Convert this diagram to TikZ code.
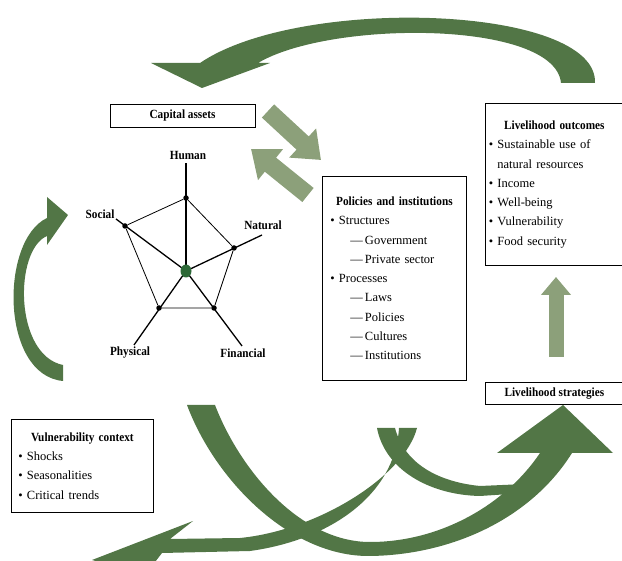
\documentclass[tikz,border=0pt]{standalone}
\usepackage{fontspec}
\setmainfont{Liberation Serif}[BoldFeatures={FakeStretch=0.9}]
\usetikzlibrary{arrows.meta,shapes.geometric}
\definecolor{leafgreen}{RGB}{82,118,70}
\definecolor{sagegreen}{RGB}{140,160,122}
\definecolor{hubgreen}{RGB}{45,105,55}
\begin{document}
\begin{tikzpicture}
   [
     x                 = 1pt,
     y                 = -1pt,
     every node/.style = {font=\fontsize{12.5}{19.3}\selectfont},
     infobox/.style    = {draw, line width=0.8pt, inner sep=0pt, align=left},
     headbox/.style    = {draw, line width=0.8pt, inner sep=0pt,
                          font=\fontsize{12.5}{15}\selectfont\bfseries},
     axislabel/.style  = {inner sep=1pt, font=\fontsize{12.5}{15}\selectfont\bfseries},
     vertex/.style     = {circle, fill=black, inner sep=0pt, minimum size=5.5pt},
     hub/.style        = {ellipse, fill=hubgreen, inner sep=0pt,
                          minimum width=11pt, minimum height=13pt},
     spoke/.style      = {line width=1.3pt},
     rim/.style        = {line width=0.8pt},
     bigarrow/.style   = {fill=leafgreen},
     blockarrow/.style = {draw=sagegreen, line width=18pt,
                          -{Triangle[length=25pt,width=38pt]}},
     uparrow/.style    = {draw=sagegreen, line width=15pt,
                          -{Triangle[length=18pt,width=29pt]}}
   ]
    \useasboundingbox (0,0) rectangle (622,561);
    \clip (0,0) rectangle (622,561);

    \fill[bigarrow] (595,83) .. controls (598,5) and (300,-5) .. (200,63)
      -- (151,63) -- (202,88) -- (270,63) -- (258,63)
      .. controls (330,20) and (555,20) .. (561,83) -- cycle;
    \fill[bigarrow] (63,381) .. controls (0,375) and (0,240) .. (47,218)
      -- (47,197) -- (68,215) -- (47,245) -- (47,236)
      .. controls (14,250) and (14,355) .. (63,365) -- cycle;
    \fill[bigarrow] (187,405) .. controls (215,480) and (290,557) .. (370,556)
      .. controls (450,555) and (530,520) .. (572,453)
      -- (613,453) -- (563,405) -- (497,453) -- (540,453)
      .. controls (505,505) and (440,542) .. (370,542)
      .. controls (300,542) and (240,470) .. (215,405) -- cycle;
    \fill[bigarrow] (377,428) -- (395,428) .. controls (405,465) and (440,482) .. (480,486)
      -- (525,484) -- (525,493) -- (480,496)
      .. controls (430,495) and (385,470) .. (377,428) -- cycle;
    \fill[bigarrow] (399,428) -- (417,428) .. controls (405,475) and (320,530) .. (240,538)
      -- (170,539) -- (193,521) -- (92,560) -- (145,575) -- (162,553) -- (250,551)
      .. controls (330,540) and (395,495) .. (399,428) -- cycle;

    \node[headbox, minimum width=145, minimum height=23] (capital) at (182.5,115.5) {Capital assets};

    \coordinate (centre)   at (186,271);
    \node[vertex] (human)     at (186,198) {};
    \node[vertex] (natural)   at (234,248) {};
    \node[vertex] (financial) at (214,308) {};
    \node[vertex] (physical)  at (159,308) {};
    \node[vertex] (social)    at (125,226) {};
    \coordinate (humanend)     at (186,163);
    \coordinate (naturalend)   at (262,235);
    \coordinate (financialend) at (242,346);
    \coordinate (physicalend)  at (134,345);
    \coordinate (socialend)    at (116,219);
    \draw[rim] (human) -- (natural) -- (financial) -- (physical) -- (social) -- (human);
    \draw[spoke] (centre) -- (humanend);
    \draw[spoke] (centre) -- (naturalend);
    \draw[spoke] (centre) -- (financialend);
    \draw[spoke] (centre) -- (physicalend);
    \draw[spoke] (centre) -- (socialend);
    \node[hub] (hubdot) at (centre) {};
    \node[axislabel] (humanlbl)     at (188,155) {Human};
    \node[axislabel] (naturallbl)   at (263,225) {Natural};
    \node[axislabel] (financiallbl) at (243,353) {Financial};
    \node[axislabel] (physicallbl)  at (130,353) {Physical};
    \node[axislabel] (sociallbl)    at (100,214) {Social};

    \coordinate (toout)  at (268,111);
    \coordinate (toin)   at (321,160);
    \coordinate (backin) at (308,195);
    \coordinate (backout) at (251,149);
    \draw[blockarrow] (toout) -- (toin);
    \draw[blockarrow] (backin) -- (backout);

    \node[infobox, text width=128, minimum width=144, minimum height=204, anchor=north west]
      (policies) at (322,176) {%
      \makebox[\hsize]{\bfseries Policies and institutions}\\
      \textbullet\ Structures\\
      \hspace*{20pt}—\,Government\\
      \hspace*{20pt}—\,Private sector\\
      \textbullet\ Processes\\
      \hspace*{20pt}—\,Laws\\
      \hspace*{20pt}—\,Policies\\
      \hspace*{20pt}—\,Cultures\\
      \hspace*{20pt}—\,Institutions};

    \node[infobox, text width=131, minimum width=138, minimum height=162, anchor=north west]
      (outcomes) at (485,103) {%
      \makebox[\hsize]{\bfseries Livelihood outcomes}\\
      \textbullet\ Sustainable use of\\
      \phantom{\textbullet\ }natural resources\\
      \textbullet\ Income\\
      \textbullet\ Well-being\\
      \textbullet\ Vulnerability\\
      \textbullet\ Food security};

    \node[headbox, minimum width=138, minimum height=22, anchor=north west]
      (strategies) at (485,382) {Livelihood strategies};

    \coordinate (upfoot) at (556,357);
    \coordinate (uptip)  at (556,277);
    \draw[uparrow] (upfoot) -- (uptip);

    \node[infobox, text width=128, minimum width=142, minimum height=93, anchor=north west]
      (vulnerability) at (11,419) {%
      \makebox[\hsize]{\bfseries Vulnerability context}\\
      \textbullet\ Shocks\\
      \textbullet\ Seasonalities\\
      \textbullet\ Critical trends};
\end{tikzpicture}
\end{document}
